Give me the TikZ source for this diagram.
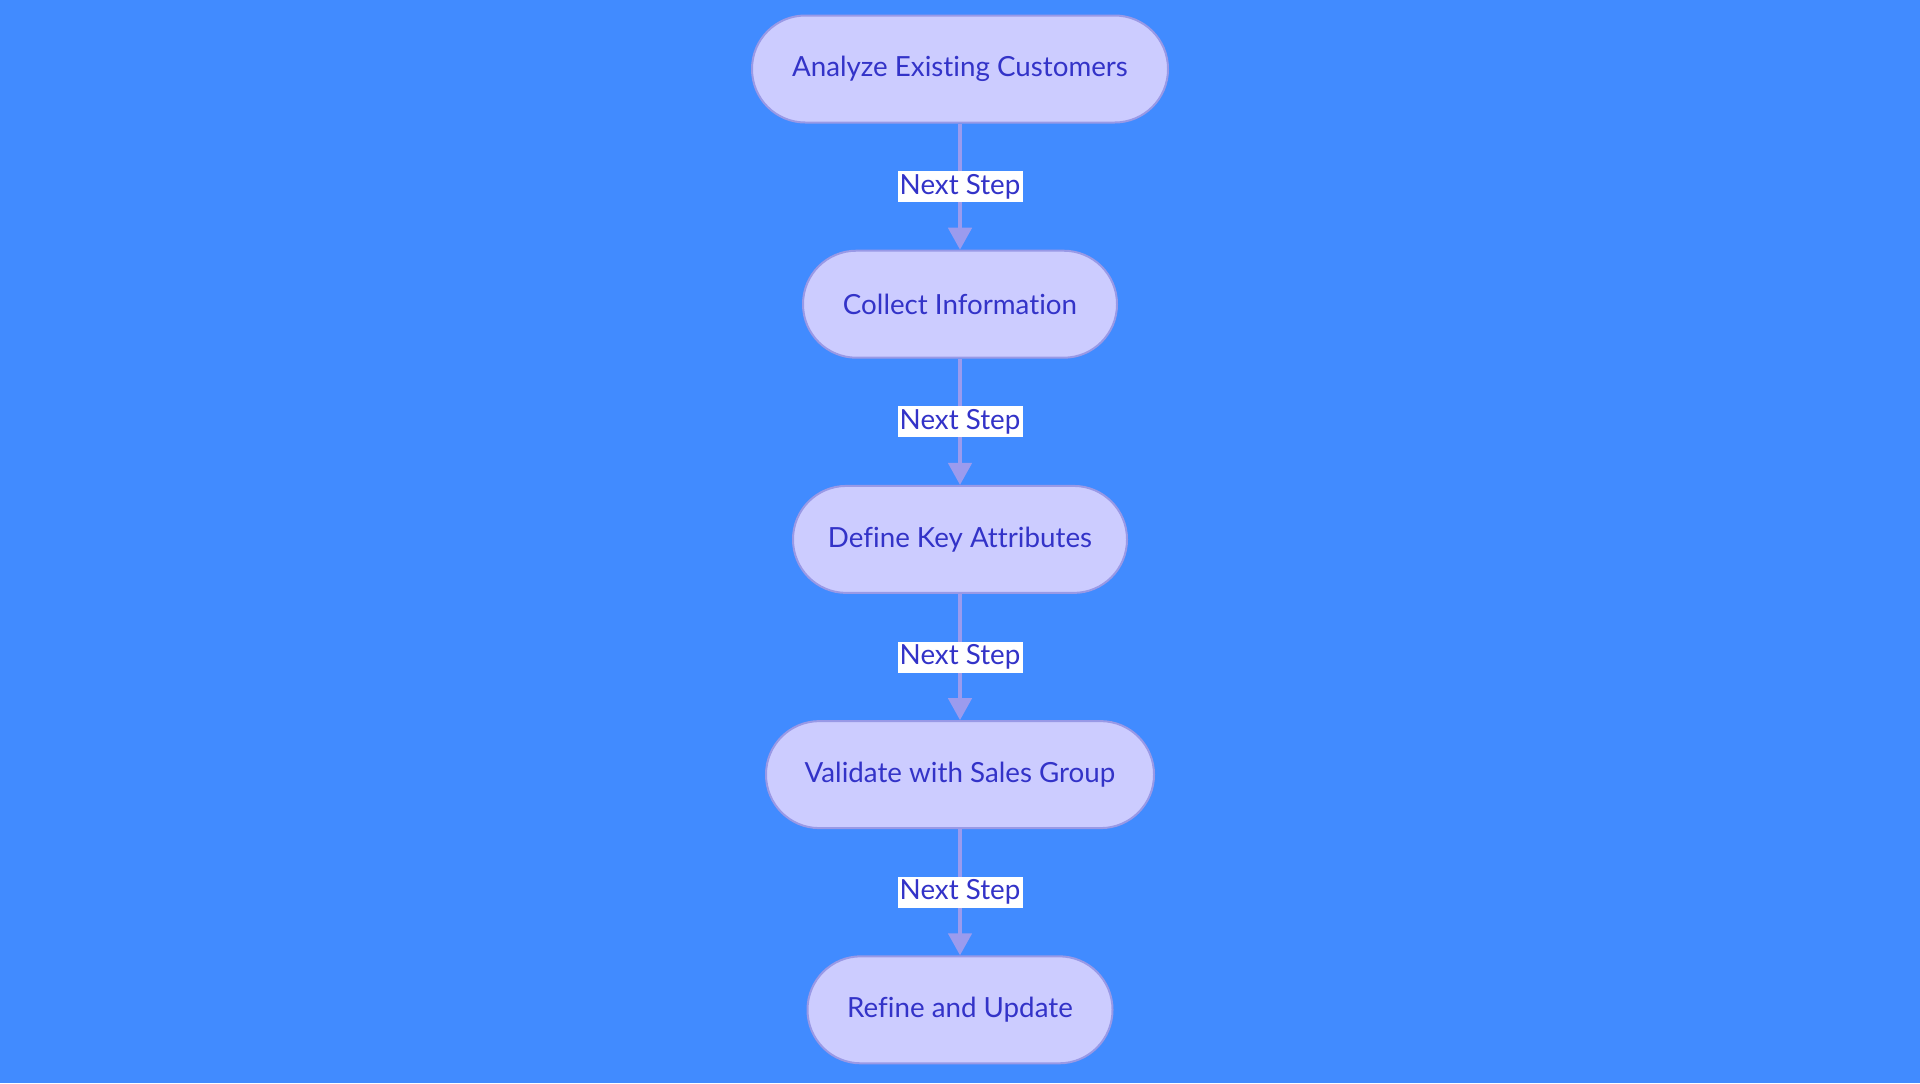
\documentclass[tikz,border=0pt]{standalone}
\usepackage{fontspec}
\setmainfont{Lato}[Ligatures=NoCommon]
\usepackage{tikz}
\usetikzlibrary{arrows.meta,shapes,calc}
\definecolor{bgblue}{HTML}{418BFF}
\definecolor{stepfill}{HTML}{CCCCFF}
\definecolor{stepline}{HTML}{9999E6}
\definecolor{steptext}{HTML}{3333C8}
\definecolor{arrowcol}{HTML}{9B9BEE}

\begin{document}
\begin{tikzpicture}
\tikzstyle{main}=[rectangle, rounded corners=40pt, draw=stepline, line width=1.5pt, fill=stepfill, text=steptext, font=\fontsize{20.8}{24}\selectfont, node distance = 176.4pt, minimum height = 80.25pt, inner sep=0pt]
\tikzstyle{connect}=[-{Triangle[width=17.5pt, length=16.5pt]}, line width=2.8pt, draw=arrowcol]
\tikzstyle{tag}=[rectangle, fill=white, text=steptext, font=\fontsize{20.8}{24}\selectfont, inner sep=0pt, minimum width=93.75pt, minimum height=23.25pt]

  % background and frame
  \fill[bgblue] (0,0) rectangle (1440pt,-812.25pt);
  \useasboundingbox (0,0) rectangle (1440pt,-812.25pt);

  \node[main] (analyze)  [minimum width=312pt] at (720pt,-51.75pt) {Analyze Existing Customers};
  \node[main] (collect)  [below of =analyze,  minimum width=235.5pt] {Collect Information};
  \node[main] (define)   [below of =collect,  minimum width=250.5pt] {Define Key Attributes};
  \node[main] (validate) [below of =define,   minimum width=291pt]   {Validate with Sales Group};
  \node[main] (refine)   [below of =validate, minimum width=228.75pt] {Refine and Update};

  \path (analyze)  edge [connect] node [tag] {Next Step} (collect);
  \path (collect)  edge [connect] node [tag] {Next Step} (define);
  \path (define)   edge [connect] node [tag] {Next Step} (validate);
  \path (validate) edge [connect] node [tag] {Next Step} (refine);

\end{tikzpicture}
\end{document}
